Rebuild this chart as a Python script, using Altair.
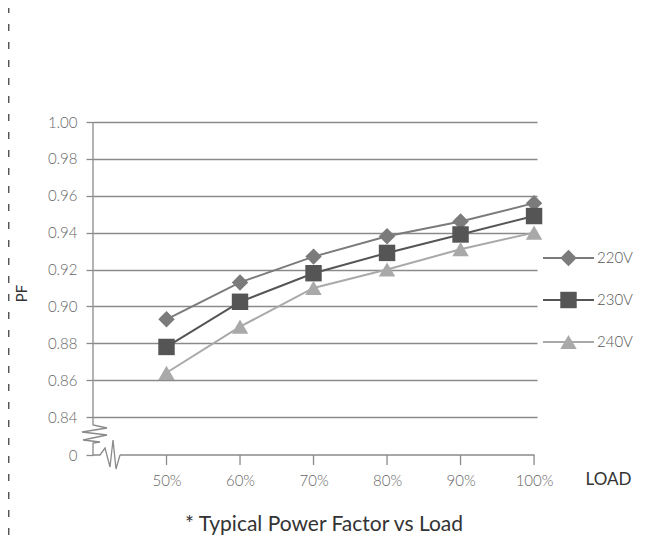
import altair as alt
import pandas as pd

LOADS = [50, 60, 70, 80, 90, 100]
SERIES = ["220V", "230V", "240V"]
PF_220 = [0.893, 0.913, 0.927, 0.938, 0.946, 0.956]
PF_230 = [0.878, 0.9025, 0.918, 0.929, 0.939, 0.949]
PF_240 = [0.864, 0.889, 0.910, 0.920, 0.931, 0.940]
Y_TICKS = [0.8194, 0.84, 0.86, 0.88, 0.90, 0.92, 0.94, 0.96, 0.98, 1.00]
TITLE = "* Typical Power Factor vs Load"

rows = []
for s, vals in zip(SERIES, [PF_220, PF_230, PF_240]):
    for l, v in zip(LOADS, vals):
        rows.append({"series": s, "load": l, "pf": v})
df = pd.DataFrame(rows)

FONT = "Lato"
W, H = 444, 333
GRID = "#8a8a8a"
color_scale = alt.Scale(domain=SERIES, range=["#7b7b7b", "#555555", "#a9a9a9"])
shape_scale = alt.Scale(domain=SERIES, range=["diamond", "square", "triangle-up"])

xs = alt.Scale(domain=[40, 100.4], nice=False, zero=False)
ys = alt.Scale(domain=[0.8194, 1.0], nice=False, zero=False)

X = alt.X("load:Q", scale=xs, axis=alt.Axis(
    values=LOADS, tickCount=len(LOADS), labelExpr="datum.value + '%'",
    domain=False, grid=False, ticks=False, tickSize=0, labelPadding=18,
    labelOverlap=False, labelFontSize=15, labelColor="#666666", labelFont=FONT,
    labelFontWeight=300,
    title="LOAD", titleX=492, titleY=24, titleAlign="left", titleBaseline="middle",
    titleFontSize=17, titleFontWeight="normal", titleColor="#333333", titleFont=FONT))
Y = alt.Y("pf:Q", scale=ys, axis=alt.Axis(
    values=Y_TICKS, tickCount=len(Y_TICKS),
    labelExpr="datum.value < 0.83 ? '0' : format(datum.value, '.2f')",
    domain=False, ticks=True, tickSize=7, tickColor=GRID, tickWidth=1.3, labelPadding=9,
    labelOverlap=False, labelFontSize=15, labelColor="#666666", labelFont=FONT,
    labelFontWeight=300,
    grid=True, gridColor=GRID, gridWidth=1.3,
    gridOpacity={"condition": {"test": "datum.value < 0.83", "value": 0}, "value": 1},
    title="PF", titleAngle=270, titleX=-72, titleY=171, titleAlign="center",
    titleBaseline="middle", titleFontSize=15, titleFontWeight="normal",
    titleColor="#333333", titleFont=FONT))

C = alt.Color("series:N", scale=color_scale, legend=None)
S = alt.Shape("series:N", scale=shape_scale, legend=None)

base = alt.Chart(df)
lines = base.mark_line(strokeWidth=2).encode(x=X, y=Y, color=C)
points = base.mark_point(filled=True, size=270, opacity=1).encode(x=X, y=Y, color=C, shape=S)

# x-axis ticks at each load category (short downward strokes)
xticks = alt.Chart(pd.DataFrame({"load": LOADS})).mark_point(
    shape="M0,0 L0,10", size=4, filled=False, stroke=GRID, strokeWidth=1.3, opacity=1).encode(
    x=alt.X("load:Q", scale=xs), y=alt.value(H))

# axis lines and breaks (decoration, pixel positions)
one = pd.DataFrame({"a": [0]})
Y084 = 295
yaxis_line = alt.Chart(one).mark_rule(color=GRID, strokeWidth=1.3).encode(
    x=alt.value(0), y=alt.value(0), y2=alt.value(Y084))
BREAK = ("M0,0 L0,8 L14,11 L-11,15 L14,18 L-10,23 L7,25 L0,26 L0,38 "
         "L7,38 L12,31 L17,50 L20,23 L23,52 L27,38")
brk = alt.Chart(one).mark_point(
    shape=BREAK, size=4, filled=False, stroke=GRID, strokeWidth=1.3, opacity=1).encode(
    x=alt.value(0), y=alt.value(Y084))
baseline = alt.Chart(one).mark_rule(color=GRID, strokeWidth=1.3).encode(
    x=alt.value(27), x2=alt.value(441.5), y=alt.value(H))

# custom legend
LEG_Y = [136, 178, 220]
legend_layers = []
for s, ly in zip(SERIES, LEG_Y):
    c = alt.Chart(pd.DataFrame({"series": [s]}))
    legend_layers.append(c.mark_rule(strokeWidth=2).encode(
        x=alt.value(450), x2=alt.value(501), y=alt.value(ly), color=C))
    legend_layers.append(c.mark_point(filled=True, size=270, opacity=1).encode(
        x=alt.value(475.5), y=alt.value(ly), color=C, shape=S))
    legend_layers.append(c.mark_text(align="left", baseline="middle", fontSize=15,
                                     font=FONT, fontWeight=300, color="#555555").encode(
        x=alt.value(504), y=alt.value(ly), text="series:N"))

dash = alt.Chart(one).mark_rule(
    color="#555555", strokeWidth=1.5, strokeDash=[7, 11]).encode(
    x=alt.value(-84.3), y=alt.value(-116), y2=alt.value(430))

title = alt.Chart(pd.DataFrame({"t": [TITLE]})).mark_text(
    fontSize=21, font=FONT, color="#333333", align="center", baseline="middle").encode(
    x=alt.value(231), y=alt.value(403), text="t:N")

chart = alt.layer(lines, points, xticks, yaxis_line, brk, baseline, dash, title,
                  *legend_layers).properties(
    width=W, height=H,
    padding={"left": 85, "top": 114, "right": 100, "bottom": 80},
    autosize=alt.AutoSizeParams(type="none"),
    background="white",
).configure_view(stroke=None)

chart.save("out.html", embed_options={"renderer": "svg", "actions": False})
